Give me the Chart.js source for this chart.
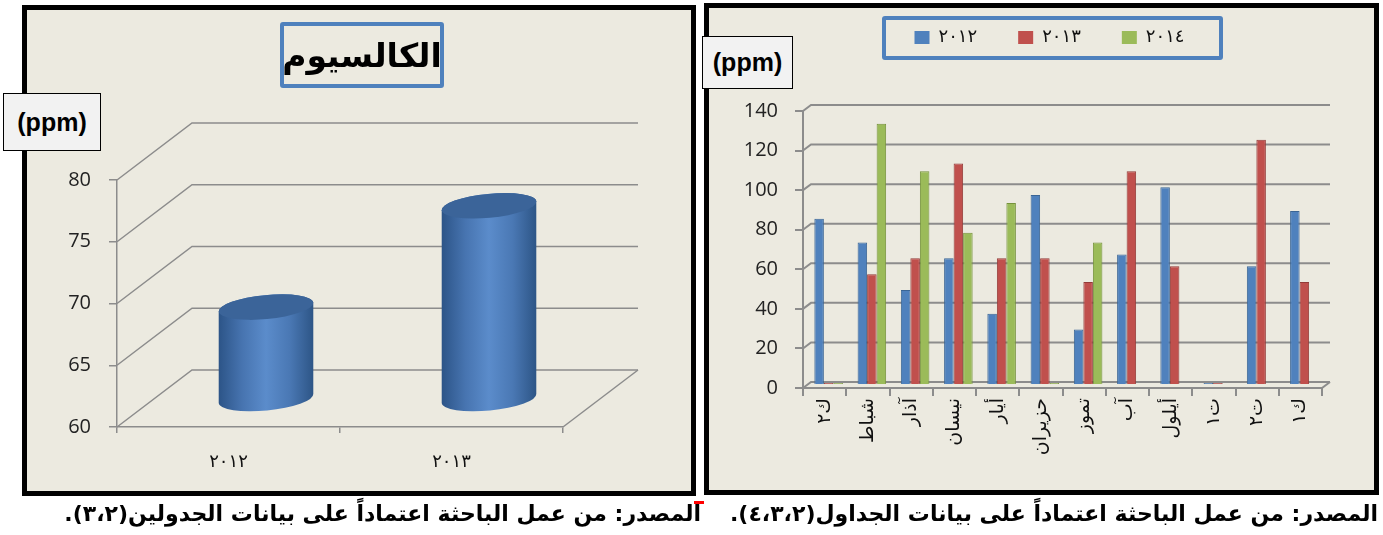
<!DOCTYPE html>
<html lang="ar">
<head>
<meta charset="utf-8">
<title>الكالسيوم</title>
<script src="https://cdn.jsdelivr.net/npm/chart.js@4.4.1/dist/chart.umd.min.js"></script>
<style>
  html, body { margin: 0; padding: 0; width: 1383px; height: 535px; overflow: hidden; background: #fff; }
  .panel { position: absolute; box-sizing: border-box; background: #ECEAE0; border: 5px solid #000; z-index: 0; }
  #leftPanel { left: 22px; top: 5px; width: 674px; height: 491px; }
  #rightPanel { left: 704px; top: 3px; width: 675px; height: 492px; }
  .wrap { position: absolute; top: 0; height: 500px; z-index: 1; }
  #leftWrap { left: 0; width: 700px; }
  #rightWrap { left: 700px; width: 683px; }
  .unit { position: absolute; z-index: 2; box-sizing: border-box; background: #F2F2F2; border: 1.5px solid #000;
          font: bold 25px "Liberation Sans", Arial, sans-serif; color: #000; display: flex; align-items: center; justify-content: center; }
  #leftUnit { left: 3px; top: 93px; width: 98px; height: 58px; }
  #rightUnit { left: 702px; top: 36px; width: 91px; height: 53px; }
  #title { position: absolute; z-index: 2; left: 280px; top: 22px; width: 164px; height: 66px; box-sizing: border-box;
           border: 4px solid #4F81BD; border-radius: 3px; display: flex; align-items: center; justify-content: center;
           font: bold 33px "DejaVu Sans", sans-serif; color: #000; }
  #legendBox { position: absolute; z-index: 0; left: 882px; top: 16px; width: 341px; height: 44px; box-sizing: border-box;
               border: 4px solid #4F81BD; border-radius: 3px; }
  .caption { position: absolute; z-index: 2; top: 501px; white-space: nowrap; direction: rtl; text-align: right;
             font: bold 22px "DejaVu Sans", sans-serif; color: #000; }
  #leftCaption { right: 682px; }
  #rightCaption { right: 5px; }
  #mark { position: absolute; left: 694px; top: 501px; width: 10px; height: 3px; background: #f00; z-index: 2; }
</style>
</head>
<body>
<div class="panel" id="leftPanel"></div>
<div class="panel" id="rightPanel"></div>
<div id="legendBox"></div>
<div class="wrap" id="leftWrap"><canvas id="calciumChart"></canvas></div>
<div class="wrap" id="rightWrap"><canvas id="monthChart"></canvas></div>
<div id="title">الكالسيوم</div>
<div class="unit" id="leftUnit">(ppm)</div>
<div class="unit" id="rightUnit">(ppm)</div>
<div class="caption" id="leftCaption">المصدر: من عمل الباحثة اعتماداً على بيانات الجدولين(<bdo dir="rtl">٢،٣</bdo>).</div>
<div class="caption" id="rightCaption">المصدر: من عمل الباحثة اعتماداً على بيانات الجداول(<bdo dir="rtl">٢،٣،٤</bdo>).</div>
<div id="mark"></div>

<script>
// left chart: calcium by year
const calciumYears = ["٢٠١٢", "٢٠١٣"];
const calciumValues = [67.4, 75.6];
const calciumTicks = [60, 65, 70, 75, 80];

// right chart: monthly values per year
const months = ["ك٢", "شباط", "آذار", "نيسان", "أيار", "حزيران", "تموز", "آب", "أيلول", "ت١", "ت٢", "ك١"];
const seriesNames = ["٢٠١٢", "٢٠١٣", "٢٠١٤"];
const values2012 = [84, 72, 48, 64, 36, 96, 28, 66, 100, 0, 60, 88];
const values2013 = [0, 56, 64, 112, 64, 64, 52, 108, 60, 0, 124, 52];
const values2014 = [0, 132, 108, 77, 92, 0, 72, null, null, null, null, null];
const monthTicks = [0, 20, 40, 60, 80, 100, 120, 140];

const gridColor = "#8C8C8C";
const numFont = { family: "'Open Sans', sans-serif", size: 20 };
const arFont = "'DejaVu Sans', sans-serif";

// back-wall grid of the fake 3D frame
const depthGrid = {
  id: "depthGrid",
  beforeDatasetsDraw(chart, args, opts) {
    const { ctx, chartArea: a } = chart;
    const y = chart.scales.y;
    ctx.save();
    ctx.strokeStyle = opts.color;
    ctx.lineWidth = opts.width;
    y.ticks.forEach(t => {
      const py = y.getPixelForValue(t.value);
      ctx.beginPath();
      ctx.moveTo(a.left, py);
      ctx.lineTo(a.left + opts.dx, py + opts.dy);
      ctx.lineTo(a.right + opts.dx, py + opts.dy);
      ctx.stroke();
    });
    ctx.beginPath();
    ctx.moveTo(a.right, a.bottom);
    ctx.lineTo(a.right + opts.dx, a.bottom + opts.dy);
    ctx.stroke();
    ctx.restore();
  }
};

// cylinders drawn on the bar elements
const cylinders = {
  id: "cylinders",
  afterDatasetsDraw(chart, args, opts) {
    const ctx = chart.ctx;
    const floor = chart.scales.y.getPixelForValue(chart.scales.y.min);
    chart.getDatasetMeta(0).data.forEach(bar => {
      const cx = bar.x + opts.dx / 2;
      const top = bar.y + opts.dy / 2;
      const bottom = floor + opts.dy / 2;
      const rx = bar.width / 2, ry = opts.ry, rot = opts.tilt;
      const sx = rx * Math.cos(rot), sy = rx * Math.sin(rot);

      const body = ctx.createLinearGradient(cx - rx, 0, cx + rx, 0);
      body.addColorStop(0, "#2C5487");
      body.addColorStop(0.25, "#4774B0");
      body.addColorStop(0.5, "#5B8CCB");
      body.addColorStop(0.75, "#4A78B4");
      body.addColorStop(1, "#2D5586");

      ctx.save();
      ctx.fillStyle = body;
      ctx.beginPath();
      ctx.moveTo(cx - sx, top - sy);
      ctx.lineTo(cx - sx, bottom - sy);
      ctx.ellipse(cx, bottom, rx, ry, rot, Math.PI, 0, true);
      ctx.lineTo(cx + sx, top + sy);
      ctx.ellipse(cx, top, rx, ry, rot, 0, Math.PI, true);
      ctx.closePath();
      ctx.fill();

      ctx.fillStyle = "#3B6499";
      ctx.beginPath();
      ctx.ellipse(cx, top, rx, ry, rot, 0, Math.PI * 2);
      ctx.fill();
      ctx.restore();
    });
  }
};

// shift bars to the middle of the depth
const barShift = {
  id: "barShift",
  beforeDatasetsDraw(chart, args, opts) {
    chart.ctx.save();
    chart.ctx.translate(opts.dx, opts.dy);
  },
  afterDatasetsDraw(chart) {
    chart.ctx.restore();
  }
};

// put the legend where the boxed legend sits
const legendPlace = {
  id: "legendPlace",
  afterLayout(chart, args, opts) {
    const lg = chart.legend;
    if (!lg) return;
    const dx = opts.centerX - (lg.left + lg.right) / 2;
    const dy = opts.top - lg.top;
    lg.left += dx; lg.right += dx;
    lg.top += dy; lg.bottom += dy;
  }
};

new Chart(document.getElementById("calciumChart"), {
  type: "bar",
  data: {
    labels: calciumYears,
    datasets: [{
      data: calciumValues,
      backgroundColor: "rgba(0,0,0,0)",
      borderWidth: 0,
      barThickness: 95
    }]
  },
  options: {
    responsive: true,
    maintainAspectRatio: false,
    animation: false,
    layout: { padding: { left: 0, right: 137, top: 180, bottom: 0 } },
    plugins: {
      legend: { display: false },
      tooltip: { enabled: false },
      depthGrid: { dx: 75, dy: -57, color: gridColor, width: 1.5 },
      cylinders: { dx: 75, dy: -57, ry: 12, tilt: -0.095 }
    },
    scales: {
      x: {
        grid: { display: true, drawOnChartArea: false, tickLength: 6, color: gridColor, lineWidth: 1.5 },
        border: { display: true, color: gridColor, width: 1.5 },
        ticks: { font: { family: arFont, size: 18 }, color: "#111", padding: 19 },
        afterFit: s => { s.height = 73; }
      },
      y: {
        min: 60,
        max: 80,
        beginAtZero: false,
        afterBuildTicks: s => { s.ticks = calciumTicks.map(v => ({ value: v })); },
        grid: { display: true, drawOnChartArea: false, tickLength: 8, color: gridColor, lineWidth: 1.5 },
        border: { display: true, color: gridColor, width: 1.5 },
        ticks: { font: numFont, color: "#222", padding: 18 },
        afterFit: s => { s.width = 117; }
      }
    }
  },
  plugins: [depthGrid, cylinders]
});

const barColors = ["#4F81BD", "#C0504D", "#9BBB59"];
const barEdges = ["#3A6595", "#943B38", "#76923C"];
const monthSeries = [values2012, values2013, values2014];

new Chart(document.getElementById("monthChart"), {
  type: "bar",
  data: {
    labels: months,
    datasets: monthSeries.map((vals, i) => ({
      label: seriesNames[i],
      data: vals,
      backgroundColor: barColors[i],
      borderColor: barEdges[i],
      borderWidth: 1,
      minBarLength: 2,
      categoryPercentage: 0.66,
      barPercentage: 1
    }))
  },
  options: {
    responsive: true,
    maintainAspectRatio: false,
    animation: false,
    // legend is clamped to 60px, so the plot starts at 51 + 60 = 111
    layout: { padding: { left: 0, right: 61, top: 51, bottom: 0 } },
    plugins: {
      legend: {
        display: true,
        position: "top",
        maxHeight: 60,
        labels: {
          boxWidth: 15,
          boxHeight: 13,
          padding: 41,
          color: "#111",
          font: { family: arFont, size: 18 },
          generateLabels: chart =>
            Chart.defaults.plugins.legend.labels.generateLabels(chart).map(l => ({ ...l, lineWidth: 0 }))
        }
      },
      tooltip: { enabled: false },
      legendPlace: { centerX: 349.5, top: -12.5 },
      depthGrid: { dx: 8, dy: -6, color: gridColor, width: 2 },
      barShift: { dx: 4, dy: -3 }
    },
    scales: {
      x: {
        grid: { display: true, drawOnChartArea: false, tickLength: 8, color: gridColor, lineWidth: 2 },
        border: { display: true, color: gridColor, width: 2 },
        ticks: { font: { family: arFont, size: 19 }, color: "#111", padding: 2, minRotation: 90, maxRotation: 90, autoSkip: false },
        afterFit: s => { s.height = 112; }
      },
      y: {
        min: 0,
        max: 140,
        afterBuildTicks: s => { s.ticks = monthTicks.map(v => ({ value: v })); },
        grid: { display: true, drawOnChartArea: false, tickLength: 8, color: gridColor, lineWidth: 2 },
        border: { display: true, color: gridColor, width: 2 },
        ticks: { font: numFont, color: "#222", padding: 17 },
        afterFit: s => { s.width = 103; }
      }
    }
  },
  plugins: [legendPlace, depthGrid, barShift]
});
</script>
</body>
</html>
